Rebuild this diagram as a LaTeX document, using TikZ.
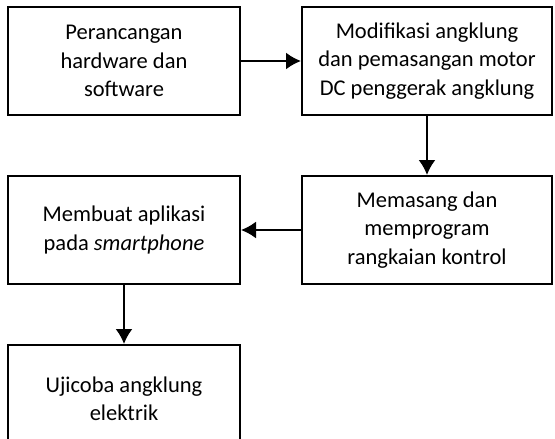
\documentclass[tikz,border=0pt]{standalone}
\usepackage{fontspec}
\setmainfont{Carlito}
\usetikzlibrary{arrows.meta, positioning}

\begin{document}
\begin{tikzpicture}[
    >={Latex[length=15pt, width=17pt]}, % Set default arrow tip style
    x=1pt, y=-1pt,
    stepbox/.style={draw, line width=2pt, minimum height=108pt,
        align=center, font=\fontsize{22.5}{28.5}\selectfont, inner sep=0pt}
]

    % Frame of the picture
    \useasboundingbox (0, 0) rectangle (555, 439);
    \clip (0, 0) rectangle (555, 439);

    % Steps
    \node[stepbox, minimum width=232pt] (design) at (124, 61)
        {Perancangan\\hardware dan\\software};
    \node[stepbox, minimum width=250pt] (modif) at (427, 61)
        {Modifikasi angklung\\dan pemasangan motor\\DC penggerak angklung};
    \node[stepbox, minimum width=250pt] (control) at (427, 230)
        {Memasang dan\\memprogram\\rangkaian kontrol};
    \node[stepbox, minimum width=232pt] (app) at (124, 230)
        {Membuat aplikasi\\pada \textit{smartphone}};
    \node[stepbox, minimum width=232pt] (test) at (124, 399)
        {Ujicoba angklung\\elektrik};

    % Flow between steps
    \draw[->, line width=2pt] (design) -- (modif);
    \draw[->, line width=2pt] (modif) -- (control);
    \draw[->, line width=2pt] (control) -- (app);
    \draw[->, line width=2pt] (app) -- (test);

\end{tikzpicture}
\end{document}
